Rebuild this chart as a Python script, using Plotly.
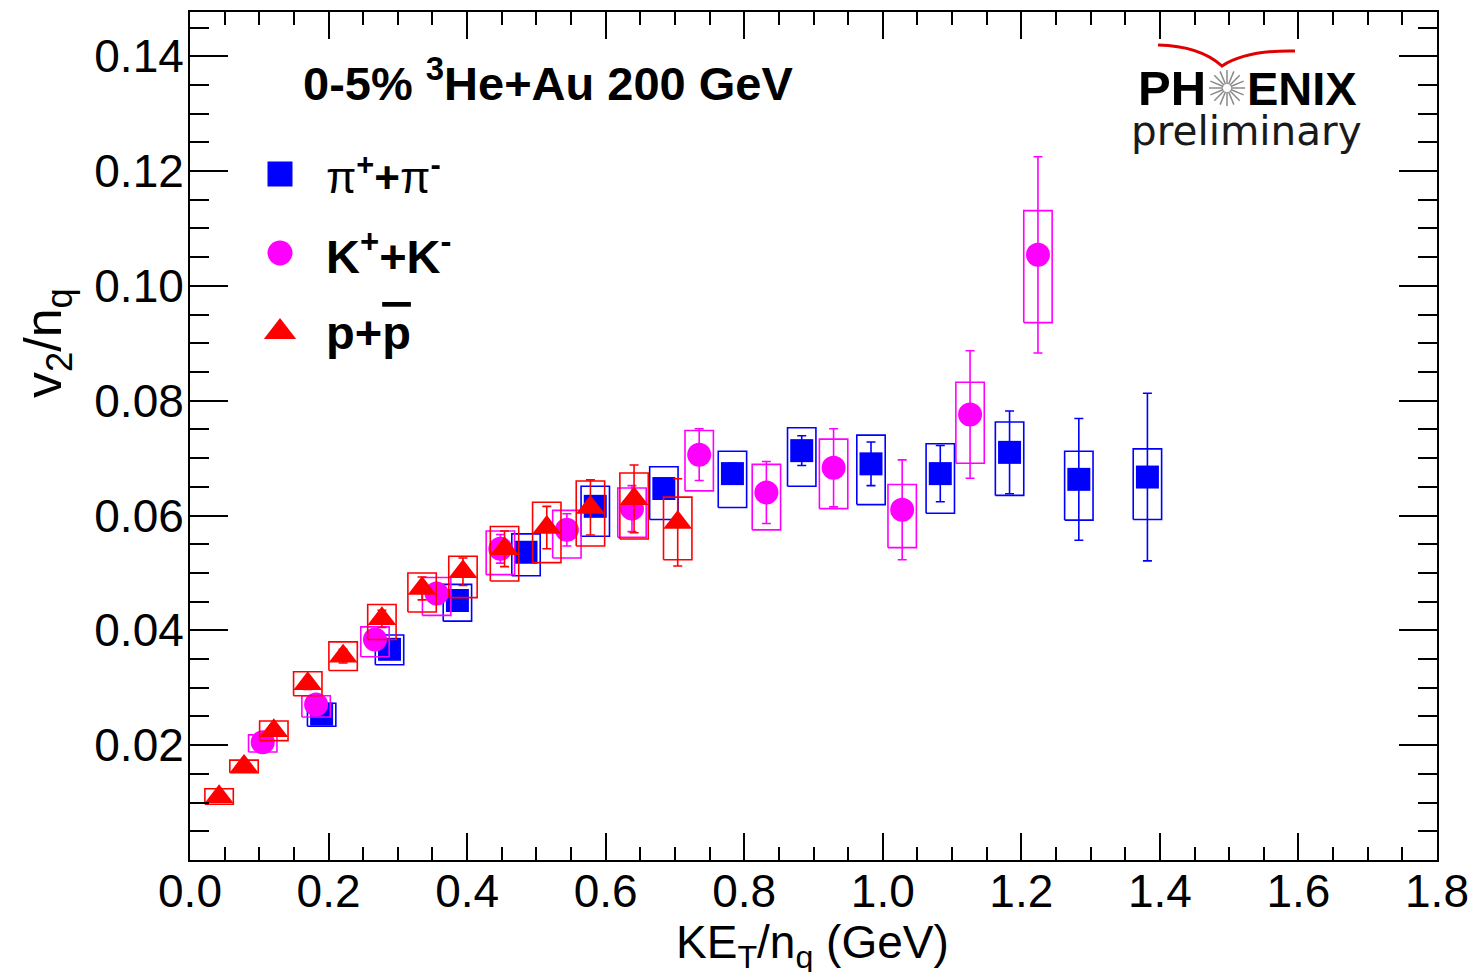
import math
import plotly.graph_objects as go

# ---------------- data ----------------
SERIES_NAMES = ["π<sup>+</sup>+π<sup>-</sup>", "K<sup>+</sup>+K<sup>-</sup>", "p+p̄"]

PI_KET = [0.190, 0.288, 0.386, 0.485, 0.585, 0.684, 0.783, 0.883, 0.983, 1.083, 1.183, 1.283, 1.382]
PI_V2 = [0.0254, 0.0367, 0.0452, 0.0536, 0.0616, 0.0647, 0.0673, 0.0713, 0.0690, 0.0673, 0.0710, 0.0663, 0.0667]
PI_STAT = [0.0006, 0.0008, 0.0010, 0.0012, 0.0014, 0.0016, 0.0018, 0.0026, 0.0038, 0.0049, 0.0072, 0.0106, 0.0146]
PI_SYS_HI = [0.0019, 0.0025, 0.0028, 0.0032, 0.0035, 0.0038, 0.0039, 0.0040, 0.0050, 0.0052, 0.0053, 0.0049, 0.0049]
PI_SYS_LO = [0.0021, 0.0027, 0.0036, 0.0041, 0.0052, 0.0054, 0.0059, 0.0062, 0.0071, 0.0069, 0.0075, 0.0071, 0.0074]

K_KET = [0.105, 0.182, 0.267, 0.356, 0.448, 0.544, 0.638, 0.735, 0.832, 0.929, 1.028, 1.126, 1.224]
K_V2 = [0.0205, 0.0271, 0.0384, 0.0464, 0.0542, 0.0575, 0.0612, 0.0706, 0.0640, 0.0683, 0.0610, 0.0776, 0.1054]
K_STAT = [0.0005, 0.0007, 0.0010, 0.0015, 0.0025, 0.0028, 0.0040, 0.0045, 0.0054, 0.0068, 0.0087, 0.0111, 0.0171]
K_SYS_HI = [0.0013, 0.0015, 0.0022, 0.0028, 0.0031, 0.0034, 0.0036, 0.0042, 0.0049, 0.0050, 0.0044, 0.0056, 0.0077]
K_SYS_LO = [0.0017, 0.0022, 0.0030, 0.0038, 0.0045, 0.0049, 0.0050, 0.0063, 0.0065, 0.0071, 0.0066, 0.0085, 0.0118]

P_KET = [0.042, 0.078, 0.121, 0.170, 0.221, 0.277, 0.335, 0.394, 0.454, 0.515, 0.578, 0.641, 0.704]
P_V2 = [0.0110, 0.0163, 0.0225, 0.0307, 0.0355, 0.0420, 0.0473, 0.0502, 0.0542, 0.0579, 0.0614, 0.0629, 0.0588]
P_STAT = [0.0005, 0.0006, 0.0008, 0.0010, 0.0012, 0.0015, 0.0020, 0.0024, 0.0031, 0.0037, 0.0048, 0.0059, 0.0076]
P_SYS_HI = [0.0014, 0.0011, 0.0017, 0.0021, 0.0025, 0.0025, 0.0027, 0.0027, 0.0039, 0.0044, 0.0046, 0.0045, 0.0044]
P_SYS_LO = [0.0013, 0.0011, 0.0017, 0.0021, 0.0025, 0.0036, 0.0041, 0.0045, 0.0056, 0.0061, 0.0067, 0.0070, 0.0065]

BOX_HALF_WIDTH = 0.0205  # half width (GeV) of the systematic boxes

X_TICKS = [0.0, 0.2, 0.4, 0.6, 0.8, 1.0, 1.2, 1.4, 1.6, 1.8]
X_TICK_LABELS = ["0.0", "0.2", "0.4", "0.6", "0.8", "1.0", "1.2", "1.4", "1.6", "1.8"]
Y_TICKS = [0.02, 0.04, 0.06, 0.08, 0.10, 0.12, 0.14]
Y_TICK_LABELS = ["0.02", "0.04", "0.06", "0.08", "0.10", "0.12", "0.14"]

TITLE_TEXT = "<b>0-5% <sup>3</sup>He+Au 200 GeV</b>"
X_TITLE = "KE<sub>T</sub>/n<sub>q</sub> (GeV)"
Y_TITLE = "v<sub>2</sub>/n<sub>q</sub>"

# ---------------- styling ----------------
W, H = 1475, 972
ML, MR, MT, MB = 190, 38, 12, 112
PW, PH = W - ML - MR, H - MT - MB
ARIAL = "Liberation Sans, Arial, sans-serif"

COLORS = ["#0000ff", "#ff00ff", "#ff0000"]
SYMBOLS = ["square", "circle", "triangle-up"]
SIZES = [23, 24, 25]


def pxx(px):
    return (px - ML) / PW


def pxy(py):
    return (MT + PH - py) / PH


series = [
    (PI_KET, PI_V2, PI_STAT, PI_SYS_HI, PI_SYS_LO),
    (K_KET, K_V2, K_STAT, K_SYS_HI, K_SYS_LO),
    (P_KET, P_V2, P_STAT, P_SYS_HI, P_SYS_LO),
]

fig = go.Figure()

for i, (xs, ys, st, shi, slo) in enumerate(series):
    bx, by = [], []
    for x, y, hi, lo in zip(xs, ys, shi, slo):
        x0, x1 = x - BOX_HALF_WIDTH, x + BOX_HALF_WIDTH
        y0, y1 = y - lo, y + hi
        bx += [x0, x1, x1, x0, x0, None]
        by += [y0, y0, y1, y1, y0, None]
    fig.add_trace(go.Scatter(x=bx, y=by, mode="lines",
                             line=dict(color=COLORS[i], width=1.6),
                             showlegend=False, hoverinfo="skip"))
    fig.add_trace(go.Scatter(
        x=xs, y=ys, mode="markers",
        marker=dict(symbol=SYMBOLS[i], size=SIZES[i], color=COLORS[i], line=dict(width=0)),
        error_y=dict(type="data", array=st, visible=True, color=COLORS[i],
                     thickness=1.6, width=4.5),
        name=SERIES_NAMES[i], showlegend=False))

# manual legend on an overlay (paper-like) axis
LEG_X = pxx(280)
LEG_Y = [pxy(174), pxy(253), pxy(332)]
LEG_SIZES = [25, 25, 28]
for i in range(3):
    fig.add_trace(go.Scatter(
        x=[LEG_X], y=[LEG_Y[i]], xaxis="x2", yaxis="y2", mode="markers",
        marker=dict(symbol=SYMBOLS[i], size=LEG_SIZES[i], color=COLORS[i], line=dict(width=0)),
        showlegend=False, hoverinfo="skip"))

legend_texts = [
    "π<sup><b>+</b></sup><b>+</b>π<sup><b>-</b></sup>",
    "<b>K<sup>+</sup>+K<sup>-</sup></b>",
    "<b>p+<span style='text-decoration:overline'>p</span></b>",
]
legend_sizes = [44, 47, 47]

annotations = []
for i, t in enumerate(legend_texts):
    annotations.append(dict(x=pxx(324), y=LEG_Y[i], xref="paper", yref="paper",
                            text=t, showarrow=False, xanchor="left", yanchor="middle",
                            font=dict(family=ARIAL, size=legend_sizes[i], color="black")))

annotations.append(dict(x=pxx(301), y=pxy(80), xref="paper", yref="paper", text=TITLE_TEXT,
                        showarrow=False, xanchor="left", yanchor="middle",
                        font=dict(family=ARIAL, size=47, color="black")))

# axis titles
annotations.append(dict(x=pxx(812), y=pxy(945), xref="paper", yref="paper", text=X_TITLE,
                        showarrow=False, xanchor="center", yanchor="middle",
                        font=dict(family=ARIAL, size=46, color="black")))
annotations.append(dict(x=pxx(47), y=pxy(343), xref="paper", yref="paper", text=Y_TITLE,
                        showarrow=False, xanchor="center", yanchor="middle", textangle=-90,
                        font=dict(family=ARIAL, size=52, color="black")))

# PHENIX logo
annotations.append(dict(x=pxx(1208), y=pxy(88), xref="paper", yref="paper", text="<b>PH</b>",
                        showarrow=False, xanchor="right", yanchor="middle",
                        font=dict(family=ARIAL, size=49, color="black")))
annotations.append(dict(x=pxx(1245), y=pxy(88), xref="paper", yref="paper", text="<b>ENIX</b>",
                        showarrow=False, xanchor="left", yanchor="middle",
                        font=dict(family=ARIAL, size=47, color="black")))
annotations.append(dict(x=pxx(1246), y=pxy(131), xref="paper", yref="paper", text="preliminary",
                        showarrow=False, xanchor="center", yanchor="middle",
                        font=dict(family="DejaVu Sans", size=40.5, color="#1a1a1a")))

shapes = []
# star burst of the logo
cx, cy = 1227, 88
path = ""
for k in range(16):
    a = 2 * math.pi * k / 16
    x0, y0 = cx + 4 * math.cos(a), cy + 4 * math.sin(a)
    x1, y1 = cx + 18 * math.cos(a), cy + 18 * math.sin(a)
    path += f"M{pxx(x0):.5f},{pxy(y0):.5f} L{pxx(x1):.5f},{pxy(y1):.5f} "
shapes.append(dict(type="path", xref="paper", yref="paper", path=path,
                   line=dict(color="#8a8a8a", width=1.5)))
# red arc
arc = (f"M{pxx(1158):.5f},{pxy(45):.5f} Q{pxx(1200):.5f},{pxy(46):.5f} {pxx(1222):.5f},{pxy(66):.5f} "
       f"Q{pxx(1246):.5f},{pxy(50):.5f} {pxx(1295):.5f},{pxy(51):.5f}")
shapes.append(dict(type="path", xref="paper", yref="paper", path=arc,
                   line=dict(color="#e00000", width=3)))

axis_common = dict(showgrid=False, zeroline=False, showline=True, linecolor="black",
                   linewidth=2, mirror="allticks", ticks="inside", tickcolor="black",
                   tickwidth=1.6, automargin=False,
                   tickfont=dict(family=ARIAL, size=46, color="black"))

fig.update_layout(
    width=W, height=H,
    margin=dict(l=ML, r=MR, t=MT, b=MB, pad=0, autoexpand=False),
    paper_bgcolor="white", plot_bgcolor="white",
    showlegend=False,
    xaxis=dict(range=[0, 1.8], tickmode="array", tickvals=X_TICKS, ticktext=X_TICK_LABELS,
               ticklen=27, ticklabelstandoff=-10,
               minor=dict(ticks="inside", ticklen=13, tickmode="linear", tick0=0, dtick=0.05,
                          tickcolor="black", tickwidth=1.6),
               **axis_common),
    yaxis=dict(range=[0, 0.1477], tickmode="array", tickvals=Y_TICKS, ticktext=Y_TICK_LABELS,
               ticklen=38, ticklabelstandoff=-5,
               minor=dict(ticks="inside", ticklen=19, tickmode="linear", tick0=0, dtick=0.005,
                          tickcolor="black", tickwidth=1.6),
               **axis_common),
    xaxis2=dict(overlaying="x", range=[0, 1], visible=False),
    yaxis2=dict(overlaying="y", range=[0, 1], visible=False),
    annotations=annotations,
    shapes=shapes,
)

fig.write_html("out.html")
